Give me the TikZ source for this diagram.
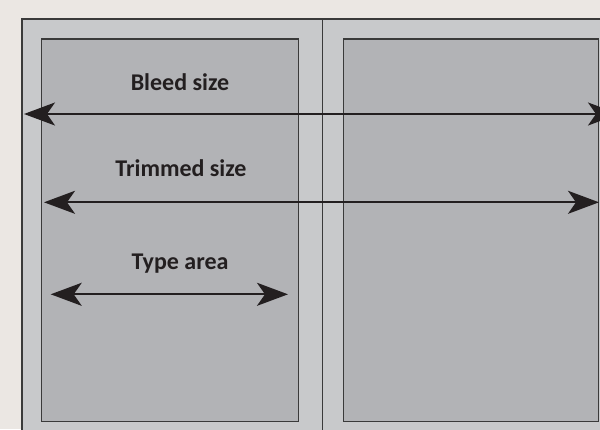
\documentclass[tikz,border=0pt]{standalone}
\usepackage{fontspec}
\setmainfont{Carlito}
\usetikzlibrary{arrows.meta}
\definecolor{bgc}{HTML}{EBE7E3}
\definecolor{outerc}{HTML}{C8C9CB}
\definecolor{pagec}{HTML}{B2B3B6}
\definecolor{linec}{HTML}{3A3A3A}
\definecolor{textc}{HTML}{231F20}
\tikzset{
  pagebox/.style={fill=pagec, draw=linec, line width=1.3pt},
  dimarrow/.style={draw=textc, line width=2pt, {Stealth[length=31pt,width=23pt,inset=8pt]}-{Stealth[length=31pt,width=23pt,inset=8pt]}},
  lbl/.style={text=textc, font=\fontsize{24}{26}\selectfont\bfseries, anchor=base}
}
\begin{document}
\begin{tikzpicture}[x=1pt,y=-1pt]
\useasboundingbox (0,0) rectangle (600,429);
\clip (0,0) rectangle (600,429);
\fill[bgc] (0,0) rectangle (600,429);
\draw[fill=outerc, draw=linec, line width=1.3pt] (22,19) rectangle (640,450);
\draw[linec, line width=1.3pt] (322.7,19) -- (322.7,450);
\draw[pagebox] (41.5,39) rectangle (298.5,421.7);
\draw[pagebox] (343.7,39) rectangle (598.7,421.7);
\coordinate (bl) at (24,114);
\coordinate (br) at (619,114);
\coordinate (tl) at (44,202.3);
\coordinate (tr) at (599,202.3);
\coordinate (al) at (50.7,294.3);
\coordinate (ar) at (288,294.3);
\draw[dimarrow] (bl) -- (br);
\draw[dimarrow] (tl) -- (tr);
\draw[dimarrow] (al) -- (ar);
\node[lbl] (bs) at (180,90) {Bleed size};
\node[lbl] (ts) at (181,176) {Trimmed size};
\node[lbl] (ta) at (180,269) {Type area};
\end{tikzpicture}
\end{document}
